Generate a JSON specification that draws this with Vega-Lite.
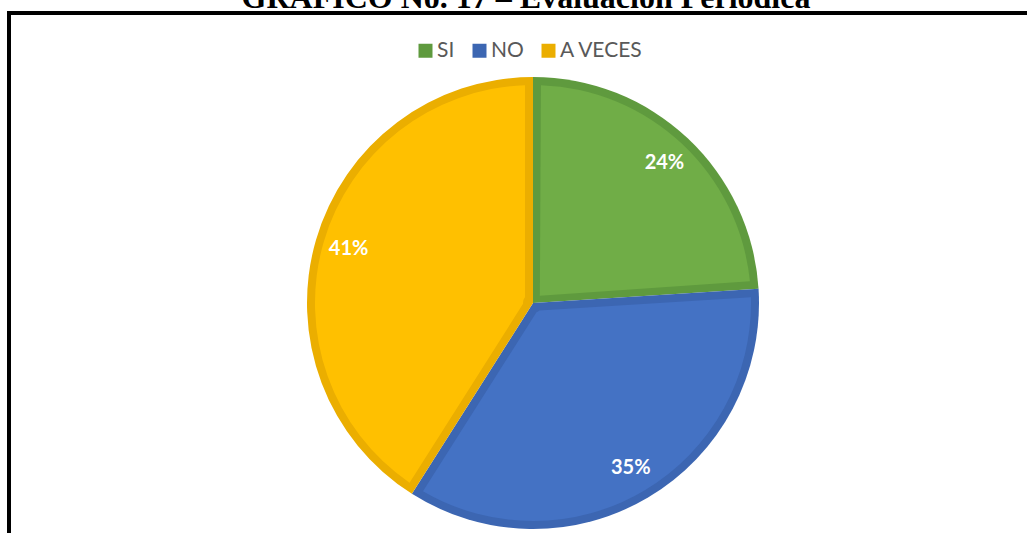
{
  "$schema": "https://vega.github.io/schema/vega-lite/v6.json",
  "autosize": {"type": "none"},
  "width": 1048,
  "height": 580,
  "padding": {"left": 9, "top": 13, "right": -30, "bottom": -60},
  "background": "white",
  "view": {"stroke": "black", "strokeWidth": 4, "fill": "white"},
  "title": {
    "text": "GRÁFICO No. 17 – Evaluación Periódica",
    "font": "Liberation Serif",
    "fontWeight": "bold",
    "fontSize": 32,
    "color": "black",
    "anchor": "middle",
    "baseline": "alphabetic",
    "offset": -27,
    "dx": -7
  },
  "data": {
    "values": [
      {"categoria": "SI", "valor": 0.24, "orden": 1},
      {"categoria": "NO", "valor": 0.35, "orden": 2},
      {"categoria": "A VECES", "valor": 0.41, "orden": 3}
    ]
  },
  "encoding": {
    "theta": {"field": "valor", "type": "quantitative", "stack": true},
    "order": {"field": "orden", "type": "quantitative"}
  },
  "layer": [
    {
      "mark": {"type": "arc", "outerRadius": 226, "innerRadius": 0},
      "encoding": {
        "color": {
          "field": "categoria",
          "type": "nominal",
          "scale": {"domain": ["SI", "NO", "A VECES"], "range": ["#5F9A3E", "#3C66B2", "#EBAE00"]},
          "legend": {
            "title": null,
            "orient": "none",
            "direction": "horizontal",
            "legendX": 406,
            "legendY": 27,
            "symbolType": "square",
            "symbolSize": 196,
            "symbolStrokeWidth": 0,
            "labelFont": "Lato",
            "labelFontSize": 21,
            "labelColor": "#595959",
            "labelOffset": 1,
            "columnPadding": 14
          }
        }
      }
    },
    {
      "mark": {"type": "arc", "outerRadius": 218, "innerRadius": 10, "padAngle": 0.073},
      "encoding": {
        "color": {
          "field": "categoria",
          "type": "nominal",
          "scale": {"domain": ["SI", "NO", "A VECES"], "range": ["#70AD47", "#4472C4", "#FFC000"]},
          "legend": null
        }
      }
    },
    {
      "mark": {"type": "text", "radius": 192, "font": "Lato", "fontWeight": "bold", "fontSize": 20, "color": "white"},
      "encoding": {
        "text": {"field": "valor", "type": "quantitative", "format": ".0%"}
      }
    }
  ],
  "resolve": {"scale": {"color": "independent"}}
}
